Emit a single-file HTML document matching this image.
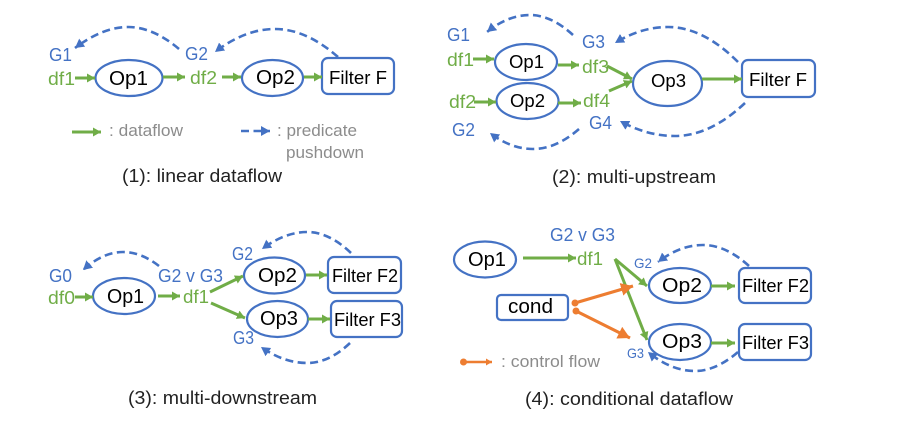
<!DOCTYPE html>
<html>
<head>
<meta charset="utf-8">
<style>
html,body{margin:0;padding:0;background:#fff;width:899px;height:430px;overflow:hidden}
svg{display:block}
text{font-family:"Liberation Sans",sans-serif}
.n{fill:#fff;stroke:#4472c4;stroke-width:2.2}
.g{fill:none;stroke:#70ad47;stroke-width:3;marker-end:url(#mg)}
.b{fill:none;stroke:#4472c4;stroke-width:2.6;stroke-dasharray:8 4.500;marker-end:url(#mb)}
.o{fill:none;stroke:#ed7d31;stroke-width:3.200;marker-end:url(#mo)}
.tb{fill:#4472c4;font-size:18px}
.tg{fill:#70ad47;font-size:18px}
.tk{fill:#000;font-size:18px}
.tc{fill:#222;font-size:18px}
.ts{fill:#8c8c8c;font-size:17px}
</style>
</head>
<body>
<svg width="899" height="430" viewBox="0 0 899 430" xmlns="http://www.w3.org/2000/svg">
<defs>
<marker id="mg" markerUnits="userSpaceOnUse" markerWidth="9" markerHeight="10" refX="8" refY="4.500" orient="auto"><path d="M0,0L8,4.500L0,9z" fill="#70ad47"/></marker>
<marker id="mb" markerUnits="userSpaceOnUse" markerWidth="11" markerHeight="11" refX="9" refY="5" orient="auto"><path d="M0,0L9,5L0,10z" fill="#4472c4"/></marker>
<marker id="mo" markerUnits="userSpaceOnUse" markerWidth="14" markerHeight="14" refX="12" refY="6.500" orient="auto"><path d="M0,0L12,6.500L0,13z" fill="#ed7d31"/></marker>
</defs>

<!-- Panel 1 -->
<ellipse class="n" cx="129" cy="78" rx="33.500" ry="18"/>
<ellipse class="n" cx="272.500" cy="78" rx="30.500" ry="18"/>
<rect class="n" x="322" y="58" width="72" height="36" rx="6"/>
<path class="g" d="M75,78H95"/>
<path class="g" d="M163,77H185"/>
<path class="g" d="M222,77H241"/>
<path class="g" d="M304,77H322"/>
<path class="g" d="M72,132H101"/>
<path class="b" d="M179,49Q153,27 128,27Q103,27 75,48"/>
<path class="b" d="M338,57Q306,29 275,29Q245,29 215,52"/>
<path class="b" d="M241,131H270"/>
<text class="tb" x="49" y="61" textLength="23" lengthAdjust="spacingAndGlyphs">G1</text>
<text class="tb" x="185" y="60" textLength="23" lengthAdjust="spacingAndGlyphs">G2</text>
<text class="tg" x="48" y="85" textLength="27" lengthAdjust="spacingAndGlyphs">df1</text>
<text class="tg" x="190" y="84" textLength="27" lengthAdjust="spacingAndGlyphs">df2</text>
<text class="tk" x="109" y="85" style="font-size:20px" textLength="39" lengthAdjust="spacingAndGlyphs">Op1</text>
<text class="tk" x="256" y="84" style="font-size:20px" textLength="39" lengthAdjust="spacingAndGlyphs">Op2</text>
<text class="tk" x="329" y="84" textLength="58" lengthAdjust="spacingAndGlyphs">Filter F</text>
<text class="ts" x="109" y="136" textLength="74" lengthAdjust="spacingAndGlyphs">: dataflow</text>
<text class="ts" x="277" y="136" textLength="80" lengthAdjust="spacingAndGlyphs">: predicate</text>
<text class="ts" x="286" y="158" textLength="78" lengthAdjust="spacingAndGlyphs">pushdown</text>
<text class="tc" x="122" y="182" textLength="160" lengthAdjust="spacingAndGlyphs">(1): linear dataflow</text>

<!-- Panel 2 -->
<ellipse class="n" cx="526" cy="62" rx="31" ry="18"/>
<ellipse class="n" cx="527.500" cy="101" rx="31" ry="18"/>
<ellipse class="n" cx="667.500" cy="83.500" rx="34.500" ry="22.500"/>
<rect class="n" x="742" y="60" width="73" height="37" rx="6"/>
<path class="g" d="M473,59H494"/>
<path class="g" d="M474,102H496"/>
<path class="g" d="M558,65H579"/>
<path class="g" d="M558,103H581"/>
<path class="g" d="M607,66L632,79"/>
<path class="g" d="M609,91L632,81"/>
<path class="g" d="M702,79H742"/>
<path class="b" d="M573,35Q551,15 530,15Q508,15 487,32"/>
<path class="b" d="M738,62Q703,27 668,27Q641,27 615,43"/>
<path class="b" d="M745,103Q710,136 675,136Q647,136 620,121"/>
<path class="b" d="M579,129Q556,149 533,149Q511,149 490,133"/>
<text class="tb" x="447" y="41" textLength="23" lengthAdjust="spacingAndGlyphs">G1</text>
<text class="tb" x="452" y="136" textLength="23" lengthAdjust="spacingAndGlyphs">G2</text>
<text class="tb" x="582" y="48" textLength="23" lengthAdjust="spacingAndGlyphs">G3</text>
<text class="tb" x="589" y="129" textLength="23" lengthAdjust="spacingAndGlyphs">G4</text>
<text class="tg" x="447" y="66" textLength="27" lengthAdjust="spacingAndGlyphs">df1</text>
<text class="tg" x="449" y="108" textLength="27" lengthAdjust="spacingAndGlyphs">df2</text>
<text class="tg" x="582" y="73" textLength="27" lengthAdjust="spacingAndGlyphs">df3</text>
<text class="tg" x="583" y="107" textLength="27" lengthAdjust="spacingAndGlyphs">df4</text>
<text class="tk" x="509" y="68" textLength="35" lengthAdjust="spacingAndGlyphs">Op1</text>
<text class="tk" x="510" y="107" textLength="35" lengthAdjust="spacingAndGlyphs">Op2</text>
<text class="tk" x="651" y="87" textLength="35" lengthAdjust="spacingAndGlyphs">Op3</text>
<text class="tk" x="749" y="86" textLength="58" lengthAdjust="spacingAndGlyphs">Filter F</text>
<text class="tc" x="552" y="183" textLength="164" lengthAdjust="spacingAndGlyphs">(2): multi-upstream</text>

<!-- Panel 3 -->
<ellipse class="n" cx="124" cy="296" rx="31" ry="18"/>
<ellipse class="n" cx="274.500" cy="275.500" rx="30.500" ry="18"/>
<ellipse class="n" cx="277.500" cy="319" rx="30.500" ry="18"/>
<rect class="n" x="328" y="257" width="73" height="36" rx="6"/>
<rect class="n" x="331" y="301" width="71" height="36" rx="6"/>
<path class="g" d="M75,297H93"/>
<path class="g" d="M158,296H180"/>
<path class="g" d="M210,292L243,276"/>
<path class="g" d="M211,303L245,318"/>
<path class="g" d="M306,275H327"/>
<path class="g" d="M308,319H330"/>
<path class="b" d="M159,266Q141,252 123,252Q103,252 83,270"/>
<path class="b" d="M351,253Q329,232 307,232Q285,232 262,249"/>
<path class="b" d="M350,343Q329,363 307,363Q284,363 261,347"/>
<text class="tb" x="49" y="282" textLength="23" lengthAdjust="spacingAndGlyphs">G0</text>
<text class="tb" x="158" y="282" textLength="65" lengthAdjust="spacingAndGlyphs">G2 v G3</text>
<text class="tb" x="232" y="260" textLength="21" lengthAdjust="spacingAndGlyphs">G2</text>
<text class="tb" x="233" y="344" textLength="21" lengthAdjust="spacingAndGlyphs">G3</text>
<text class="tg" x="48" y="304" textLength="27" lengthAdjust="spacingAndGlyphs">df0</text>
<text class="tg" x="183" y="303" textLength="26" lengthAdjust="spacingAndGlyphs">df1</text>
<text class="tk" x="107" y="303" style="font-size:20px" textLength="37" lengthAdjust="spacingAndGlyphs">Op1</text>
<text class="tk" x="258" y="282" style="font-size:20px" textLength="39" lengthAdjust="spacingAndGlyphs">Op2</text>
<text class="tk" x="260" y="325" style="font-size:20px" textLength="38" lengthAdjust="spacingAndGlyphs">Op3</text>
<text class="tk" x="332" y="282" textLength="66" lengthAdjust="spacingAndGlyphs">Filter F2</text>
<text class="tk" x="334" y="326" textLength="67" lengthAdjust="spacingAndGlyphs">Filter F3</text>
<text class="tc" x="128" y="404" textLength="189" lengthAdjust="spacingAndGlyphs">(3): multi-downstream</text>

<!-- Panel 4 -->
<ellipse class="n" cx="485" cy="259.500" rx="31" ry="18"/>
<ellipse class="n" cx="680" cy="285.500" rx="31" ry="17.500"/>
<ellipse class="n" cx="680" cy="342" rx="31" ry="18"/>
<rect class="n" x="739" y="268" width="72" height="35" rx="6"/>
<rect class="n" x="739" y="324" width="72" height="36" rx="6"/>
<rect class="n" x="497" y="295" width="71" height="25" rx="4"/>
<path class="g" d="M523,258H576"/>
<path class="g" d="M615,259L647,286"/>
<path class="g" d="M615,259L647,340"/>
<path class="g" d="M711,286H735"/>
<path class="g" d="M711,343H735"/>
<path class="o" d="M575,303L633,286"/>
<path class="o" d="M576,311L630,338"/>
<circle cx="575" cy="303" r="3.500" fill="#ed7d31"/>
<circle cx="576" cy="311" r="3.500" fill="#ed7d31"/>
<path d="M463,362H492" fill="none" stroke="#ed7d31" stroke-width="2.500"/>
<path d="M486,358.500L492,362L486,365.500z" fill="#ed7d31"/>
<circle cx="463.500" cy="362" r="3.500" fill="#ed7d31"/>
<path class="b" d="M749,266Q726,245 703,245Q680,245 658,262"/>
<path class="b" d="M738,352Q716,371 695,371Q671,371 648,352"/>
<text class="tb" x="550" y="241" textLength="65" lengthAdjust="spacingAndGlyphs">G2 v G3</text>
<text class="tb" x="634" y="268" style="font-size:14px" textLength="18" lengthAdjust="spacingAndGlyphs">G2</text>
<text class="tb" x="627" y="358" style="font-size:14px" textLength="17" lengthAdjust="spacingAndGlyphs">G3</text>
<text class="tg" x="577" y="265" textLength="26" lengthAdjust="spacingAndGlyphs">df1</text>
<text class="tk" x="468" y="266" style="font-size:20px" textLength="38" lengthAdjust="spacingAndGlyphs">Op1</text>
<text class="tk" x="662" y="292" style="font-size:20px" textLength="40" lengthAdjust="spacingAndGlyphs">Op2</text>
<text class="tk" x="662" y="348" style="font-size:20px" textLength="40" lengthAdjust="spacingAndGlyphs">Op3</text>
<text class="tk" x="742" y="292" textLength="67" lengthAdjust="spacingAndGlyphs">Filter F2</text>
<text class="tk" x="742" y="349" textLength="67" lengthAdjust="spacingAndGlyphs">Filter F3</text>
<text class="tk" x="508" y="313" style="font-size:20px" textLength="45" lengthAdjust="spacingAndGlyphs">cond</text>
<text class="ts" x="501" y="367" textLength="99" lengthAdjust="spacingAndGlyphs">: control flow</text>
<text class="tc" x="525" y="405" textLength="208" lengthAdjust="spacingAndGlyphs">(4): conditional dataflow</text>
</svg>
</body>
</html>
